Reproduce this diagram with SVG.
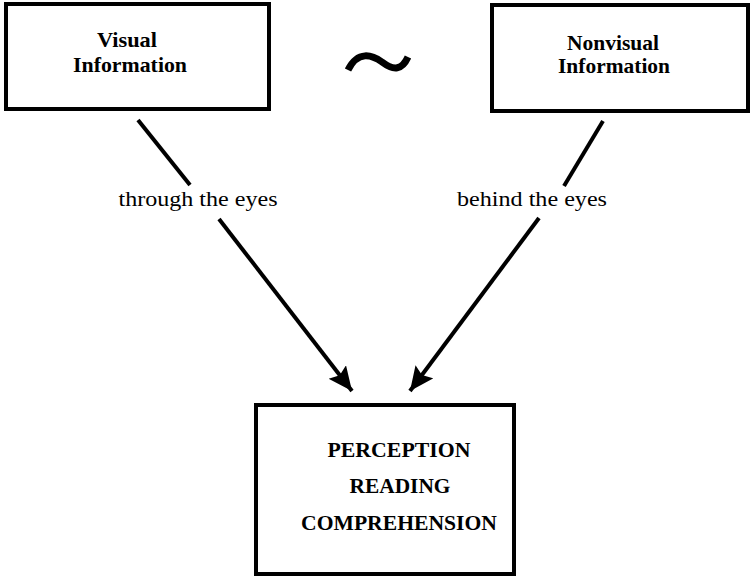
<svg xmlns="http://www.w3.org/2000/svg" width="753" height="578" viewBox="0 0 753 578">
  <style>
    .box { fill: #fff; stroke: #000; stroke-width: 4; }
    .title { font-family: "Liberation Serif", "Times New Roman", serif; font-weight: bold; font-size: 22px; fill: #000; text-anchor: middle; }
    .label { font-family: "Liberation Serif", "Times New Roman", serif; font-size: 22px; fill: #000; text-anchor: middle; }
    .edge { stroke: #000; stroke-width: 4; fill: none; }
  </style>
  <defs>
    <marker id="arrow" markerUnits="userSpaceOnUse" markerWidth="28" markerHeight="24" refX="24" refY="11" orient="auto">
      <path d="M0,0 L24,11 L0,22 L4,11 Z" fill="#000"/>
    </marker>
  </defs>
  <rect width="753" height="578" fill="#fff"/>

  <g id="visual">
    <rect class="box" x="6" y="4" width="263" height="105"/>
    <text class="title" x="127" y="47" textLength="60" lengthAdjust="spacingAndGlyphs">Visual</text>
    <text class="title" x="130" y="72" textLength="114" lengthAdjust="spacingAndGlyphs">Information</text>
  </g>

  <g id="nonvisual">
    <rect class="box" x="492" y="5" width="256" height="106"/>
    <text class="title" x="613" y="50" textLength="92" lengthAdjust="spacingAndGlyphs">Nonvisual</text>
    <text class="title" x="614" y="73" textLength="112" lengthAdjust="spacingAndGlyphs">Information</text>
  </g>

  <g id="tilde">
    <path d="M348,70 C358,50 372,55 382,62 C394,71 402,70 408,57" fill="none" stroke="#000" stroke-width="7" stroke-linecap="butt"/>
  </g>

  <g id="outcome">
    <rect class="box" x="256" y="405" width="258" height="169"/>
    <text class="title" x="399" y="457" textLength="143" lengthAdjust="spacingAndGlyphs">PERCEPTION</text>
    <text class="title" x="400" y="493" textLength="101" lengthAdjust="spacingAndGlyphs">READING</text>
    <text class="title" x="399" y="530" textLength="196" lengthAdjust="spacingAndGlyphs">COMPREHENSION</text>
  </g>

  <g id="connectors">
    <line class="edge" x1="138" y1="120" x2="190" y2="185"/>
    <line class="edge" x1="219" y1="219" x2="352" y2="391" marker-end="url(#arrow)"/>
    <line class="edge" x1="603" y1="121" x2="564" y2="186"/>
    <line class="edge" x1="539" y1="218" x2="410" y2="391" marker-end="url(#arrow)"/>
    <text class="label" x="198" y="206" textLength="159" lengthAdjust="spacingAndGlyphs">through the eyes</text>
    <text class="label" x="532" y="206" textLength="150" lengthAdjust="spacingAndGlyphs">behind the eyes</text>
  </g>
</svg>
